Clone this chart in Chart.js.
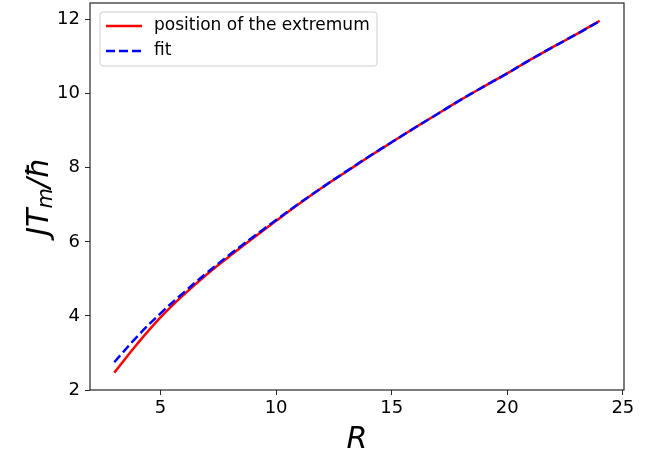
<!DOCTYPE html>
<html>
<head>
<meta charset="utf-8">
<script src="https://cdn.jsdelivr.net/npm/chart.js@4.4.0/dist/chart.umd.min.js"></script>
<style>
  html, body { margin: 0; padding: 0; background: #fff; }
  #wrap { width: 657px; height: 458px; }
</style>
</head>
<body>
<div id="wrap"><canvas id="graph"></canvas></div>
<script>
var rValues = [3, 4, 5, 6, 7, 8, 9, 10, 11, 12, 13, 14, 15, 16, 17, 18, 19, 20, 21, 22, 23, 24];
var extremum = [2.47, 3.25, 3.96, 4.57, 5.12, 5.62, 6.10, 6.57, 7.03, 7.47, 7.88, 8.29, 8.69, 9.08, 9.46, 9.84, 10.20, 10.55, 10.92, 11.27, 11.61, 11.97];
var fitted = [2.75, 3.45, 4.07, 4.63, 5.16, 5.66, 6.13, 6.59, 7.04, 7.47, 7.89, 8.30, 8.69, 9.08, 9.46, 9.84, 10.20, 10.55, 10.92, 11.27, 11.61, 11.96];
var xTicks = [5, 10, 15, 20, 25];
var yTicks = [2, 4, 6, 8, 10, 12];

function toPoints(ys) {
    var pts = [];
    for (var i in rValues)
        pts.push({x: rValues[i], y: ys[i]});
    return pts;
}

var framePlugin = {
    id: 'frame',
    afterDraw: function (chart) {
        var ctx = chart.ctx;
        var a = chart.chartArea;
        ctx.save();
        ctx.strokeStyle = '#262626';
        ctx.lineWidth = 1.2;
        ctx.strokeRect(a.left, a.top, a.right - a.left, a.bottom - a.top);

        // y axis title with subscript m
        ctx.fillStyle = '#000';
        ctx.translate(40, (a.top + a.bottom) / 2);
        ctx.rotate(-Math.PI / 2);
        ctx.textBaseline = 'middle';
        var big = 'italic 30px "DejaVu Sans"';
        var small = 'italic 21px "DejaVu Sans"';
        ctx.font = big;
        var w1 = ctx.measureText('JT').width;
        var w3 = ctx.measureText('/ħ').width;
        ctx.font = small;
        var w2 = ctx.measureText('m').width;
        var x0 = -(w1 + w2 + w3) / 2;
        ctx.font = big;
        ctx.fillText('JT', x0, 0);
        ctx.font = small;
        ctx.fillText('m', x0 + w1, 7);
        ctx.font = big;
        ctx.fillText('/ħ', x0 + w1 + w2, 0);
        ctx.restore();

        // legend
        ctx.save();
        var lx = a.left + 10, ly = a.top + 9, lw = 277, lh = 54;
        ctx.fillStyle = 'rgba(255,255,255,0.8)';
        ctx.strokeStyle = '#d0d0d0';
        ctx.lineWidth = 1;
        ctx.beginPath();
        ctx.roundRect(lx, ly, lw, lh, 3);
        ctx.fill();
        ctx.stroke();
        ctx.lineWidth = 2.5;
        ctx.strokeStyle = '#ff0000';
        ctx.beginPath();
        ctx.moveTo(lx + 6, ly + 14);
        ctx.lineTo(lx + 42, ly + 14);
        ctx.stroke();
        ctx.strokeStyle = '#0000ff';
        ctx.setLineDash([9, 4]);
        ctx.beginPath();
        ctx.moveTo(lx + 6, ly + 39);
        ctx.lineTo(lx + 42, ly + 39);
        ctx.stroke();
        ctx.setLineDash([]);
        ctx.fillStyle = '#000';
        ctx.font = '17px "DejaVu Sans"';
        ctx.textBaseline = 'middle';
        ctx.fillText('position of the extremum', lx + 54, ly + 14);
        ctx.fillText('fit', lx + 54, ly + 39);
        ctx.restore();
    }
};

var ctx = document.getElementById('graph').getContext('2d');
var chart = new Chart(ctx, {
    type: 'line',
    data: {
        datasets: [{
            label: 'position of the extremum',
            data: toPoints(extremum),
            borderColor: '#ff0000',
            borderWidth: 2.5,
            pointRadius: 0,
            tension: 0.4,
            fill: false,
            order: 1
        }, {
            label: 'fit',
            data: toPoints(fitted),
            borderColor: '#0000ff',
            borderWidth: 2.5,
            borderDash: [9, 4],
            pointRadius: 0,
            tension: 0.4,
            fill: false,
            order: 0
        }]
    },
    options: {
        responsive: true,
        maintainAspectRatio: false,
        animation: false,
        layout: {padding: {top: 3, right: 33, left: 0, bottom: 0}},
        plugins: {
            legend: {display: false},
            tooltip: {enabled: false}
        },
        scales: {
            x: {
                type: 'linear',
                min: 1.95,
                max: 25.05,
                afterBuildTicks: function (scale) {
                    scale.ticks = xTicks.map(function (v) { return {value: v}; });
                },
                afterFit: function (scale) {
                    scale.height = 68;
                    scale.paddingLeft = 0;
                    scale.paddingRight = 0;
                },
                grid: {drawOnChartArea: false, drawTicks: true, tickLength: 5, color: '#262626'},
                border: {display: false},
                ticks: {color: '#000', font: {family: 'DejaVu Sans', size: 18}, padding: 3, maxRotation: 0},
                title: {
                    display: true,
                    text: 'R',
                    color: '#000',
                    font: {family: 'DejaVu Sans', size: 30, style: 'italic'},
                    padding: {top: 0, bottom: 0}
                }
            },
            y: {
                type: 'linear',
                min: 2.0,
                max: 12.45,
                afterBuildTicks: function (scale) {
                    scale.ticks = yTicks.map(function (v) { return {value: v}; });
                },
                afterFit: function (scale) {
                    scale.width = 90;
                    scale.paddingTop = 0;
                    scale.paddingBottom = 0;
                },
                grid: {drawOnChartArea: false, drawTicks: true, tickLength: 5, color: '#262626'},
                border: {display: false},
                ticks: {color: '#000', font: {family: 'DejaVu Sans', size: 18}, padding: 5}
            }
        }
    },
    plugins: [framePlugin]
});
</script>
</body>
</html>
